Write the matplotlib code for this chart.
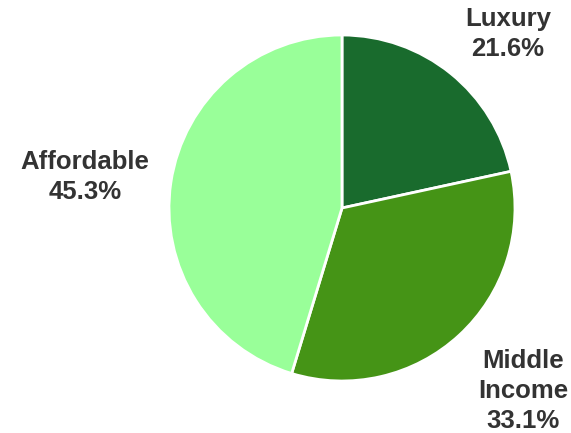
import matplotlib
matplotlib.use("Agg")
import matplotlib.pyplot as plt
import numpy as np

categories = ["Luxury", "Middle\nIncome", "Affordable"]
shares = [21.6, 33.1, 45.3]
colors = ["#196b2d", "#459416", "#99ff99"]

W, H = 571, 433
fig = plt.figure(figsize=(W / 100, H / 100), dpi=100)
ax = fig.add_axes([0, 0, 1, 1])
ax.set_xlim(0, W)
ax.set_ylim(0, H)
ax.set_aspect("equal")
ax.axis("off")

center = (342, H - 208)
radius = 173
wedges, _ = ax.pie(shares, colors=colors, startangle=90, counterclock=False,
                   center=center, radius=radius,
                   wedgeprops=dict(edgecolor="white", linewidth=2))
ax.set_xlim(0, W)
ax.set_ylim(0, H)

# label anchor positions (pixel coordinates from top-left)
label_pos = [(508, 34), (523, 391), (85, 177)]
for name, val, (x, y) in zip(categories, shares, label_pos):
    ax.text(x, H - y, f"{name}\n{val:.1f}%", ha="center", va="center",
            fontsize=18.5, fontweight="bold", color="#333333",
            family="Liberation Sans", linespacing=1.3)

fig.savefig("out.png", dpi=100)
